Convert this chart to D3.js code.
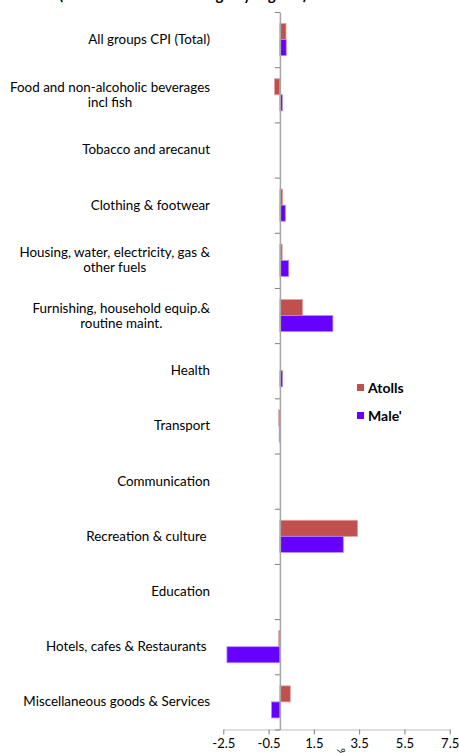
<!DOCTYPE html>
<html>
<head>
<meta charset="utf-8">
<script src="https://cdn.jsdelivr.net/npm/d3@7"></script>
<style>
  body { margin: 0; background: #fff; }
  text { font-family: Lato, "Liberation Sans", sans-serif; }
</style>
</head>
<body>
<svg id="chart" width="459" height="753"></svg>
<script>
// categories, top to bottom
let cats = [
    ["All groups CPI (Total)"],
    ["Food and non-alcoholic beverages", "incl fish"],
    ["Tobacco and arecanut"],
    ["Clothing & footwear"],
    ["Housing, water, electricity, gas &", "other fuels"],
    ["Furnishing, household equip.&", "routine maint."],
    ["Health"],
    ["Transport"],
    ["Communication"],
    ["Recreation & culture "],
    ["Education"],
    ["Hotels, cafes & Restaurants "],
    ["Miscellaneous goods & Services"]
];
let series = ["Atolls", "Male'"];
let atolls = [0.27, -0.24, 0, 0.12, 0.1, 1.0, 0, -0.05, 0, 3.43, 0, -0.05, 0.46];
let male = [0.28, 0.11, 0, 0.24, 0.39, 2.34, 0.12, -0.03, 0, 2.8, 0, -2.34, -0.37];
let xTicks = [-2.5, -0.5, 1.5, 3.5, 5.5, 7.5];
let colors = ["#C0504D", "#6600FF"];

let svg = d3.select("#chart");

let xs = d3.scaleLinear([-2.5, 7.5], [223.3, 449.7]);
let ys = d3.scaleBand(cats.map((c, i) => i), [12, 729.5]);
let ysub = d3.scaleBand(series, [0, ys.bandwidth()]).paddingOuter(0.72);
let ylin = d3.scaleLinear([0, cats.length], [12, 729.5]);

// title (cut off at the top of the picture)
svg.append("text")
    .attr("x", 183).attr("y", -0.5)
    .attr("text-anchor", "middle")
    .style("font-size", "15px").style("font-weight", "bold")
    .text("(Month-on-month change by regions)");

// bars
let rows = cats.map((c, i) => ({ i: i, vals: [atolls[i], male[i]] }));
let g = svg.selectAll(".grp")
    .data(rows)
    .enter()
    .append("g")
    .attr("class", "grp")
    .attr("transform", d => "translate(0," + ys(d.i) + ")");

g.selectAll("rect")
    .data(d => d.vals.map((v, k) => ({ s: series[k], v: v, k: k })))
    .enter()
    .append("rect")
    .attr("x", d => xs(Math.min(0, d.v)))
    .attr("width", d => Math.abs(xs(d.v) - xs(0)))
    .attr("y", d => ysub(d.s))
    .attr("height", ysub.bandwidth())
    .attr("fill", d => colors[d.k])
    .attr("stroke", d => d.k ? "#B48CFF" : "#E0A09E")
    .style("stroke-width", "0.8px");

// bottom axis
let xAxis = svg.append("g")
    .attr("transform", "translate(0,729.5)")
    .call(d3.axisBottom(xs).tickValues(xTicks).tickSize(5).tickSizeOuter(0).tickFormat(d => d.toFixed(1)));
xAxis.select(".domain").attr("stroke", "#BFBFBF");
xAxis.selectAll(".tick line").attr("stroke", "#7F7F7F");
xAxis.selectAll(".tick text")
    .attr("y", 9)
    .style("font-size", "13px")
    .style("font-family", "Lato, 'Liberation Sans', sans-serif")
    .attr("fill", "#000");

// axis title, mostly clipped
svg.append("text")
    .attr("transform", "translate(345,757) rotate(-90)")
    .style("font-size", "11px")
    .text("%");

// vertical axis at zero
let yAxis = svg.append("g")
    .attr("transform", "translate(" + xs(0) + ",0)")
    .call(d3.axisLeft(ylin).ticks(cats.length).tickSize(5).tickSizeOuter(0).tickFormat(""));
yAxis.select(".domain").attr("stroke", "#A6A6A6").style("stroke-width", "1.5px");
yAxis.selectAll(".tick line").attr("stroke", "#7F7F7F");

// category labels
let lab = svg.selectAll(".cat")
    .data(rows)
    .enter()
    .append("text")
    .attr("class", "cat")
    .style("font-size", "13.4px")
    .style("white-space", "pre")
    .attr("fill", "#000");

lab.each(function (d) {
    let t = d3.select(this);
    let lines = cats[d.i];
    let cy = ys(d.i) + ys.bandwidth() / 2;
    let lh = 15;
    lines.forEach((s, j) => {
        t.append("tspan")
            .attr("y", cy + (j - (lines.length - 1) / 2) * lh + 4.5)
            .text(s);
    });
    let w = d3.max(t.selectAll("tspan").nodes(), n => n.getComputedTextLength());
    t.attr("text-anchor", "middle");
    t.selectAll("tspan").attr("x", 210 - w / 2);
});

// legend
let leg = svg.selectAll(".leg")
    .data(series)
    .enter()
    .append("g")
    .attr("class", "leg")
    .attr("transform", (d, i) => "translate(357," + (384 + i * 28) + ")");
leg.append("rect")
    .attr("width", 7).attr("height", 7)
    .attr("fill", (d, i) => colors[i]);
leg.append("text")
    .attr("x", 11).attr("y", 9)
    .style("font-size", "14px").style("font-weight", "bold")
    .text(d => d);
</script>
</body>
</html>
